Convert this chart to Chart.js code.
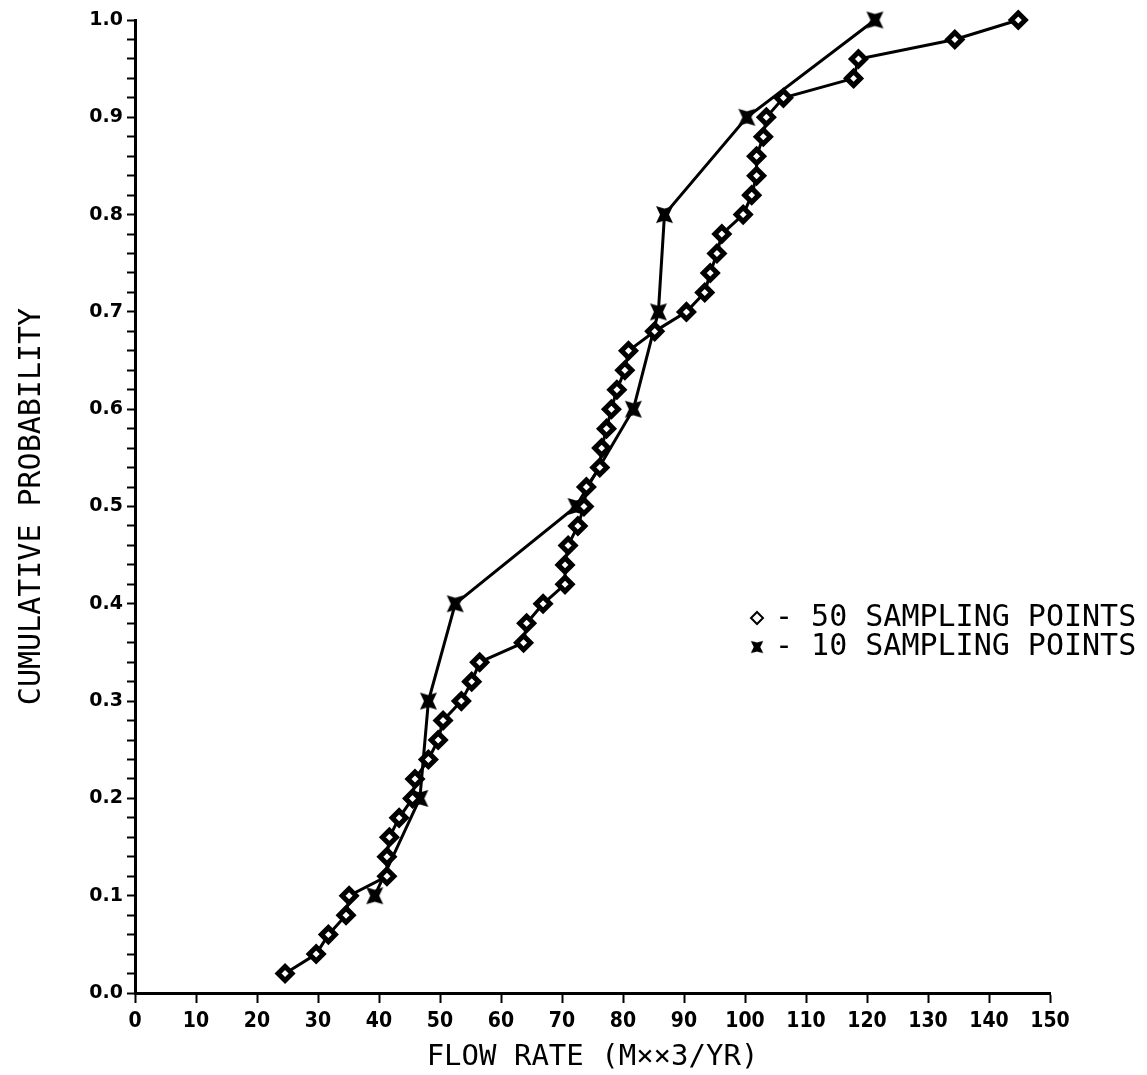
<!DOCTYPE html>
<html>
<head>
<meta charset="utf-8">
<script src="https://cdn.jsdelivr.net/npm/chart.js@4/dist/chart.umd.min.js"></script>
<style>
  html, body { margin: 0; padding: 0; background: #fff; }
  #wrap { width: 1147px; height: 1075px; }
</style>
</head>
<body>
<div id="wrap"><canvas id="myChart"></canvas></div>
<script>
// values
const prob50 = [0.02, 0.04, 0.06, 0.08, 0.10, 0.12, 0.14, 0.16, 0.18, 0.20,
                0.22, 0.24, 0.26, 0.28, 0.30, 0.32, 0.34, 0.36, 0.38, 0.40,
                0.42, 0.44, 0.46, 0.48, 0.50, 0.52, 0.54, 0.56, 0.58, 0.60,
                0.62, 0.64, 0.66, 0.68, 0.70, 0.72, 0.74, 0.76, 0.78, 0.80,
                0.82, 0.84, 0.86, 0.88, 0.90, 0.92, 0.94, 0.96, 0.98, 1.00];
const flow50 = [24.6, 29.7, 31.7, 34.6, 35.1, 41.3, 41.3, 41.7, 43.3, 45.5,
                45.9, 48.1, 49.7, 50.5, 53.5, 55.2, 56.5, 63.7, 64.2, 66.9,
                70.5, 70.5, 71.0, 72.6, 73.6, 74.0, 76.2, 76.5, 77.3, 78.1,
                79.0, 80.3, 80.9, 85.2, 90.4, 93.4, 94.3, 95.4, 96.2, 99.7,
                101.1, 101.9, 101.9, 103.0, 103.5, 106.3, 117.8, 118.6, 134.4, 144.8];

const prob10 = [0.1, 0.2, 0.3, 0.4, 0.5, 0.6, 0.7, 0.8, 0.9, 1.0];
const flow10 = [39.3, 46.7, 48.1, 52.5, 72.3, 81.7, 85.8, 86.8, 100.3, 121.3];

const xTicks = [0, 10, 20, 30, 40, 50, 60, 70, 80, 90, 100, 110, 120, 130, 140, 150];

const labels = ["50 SAMPLING POINTS", "10 SAMPLING POINTS"];

// four-pointed marker for the 10 point series
function starMarker() {
  const c = document.createElement('canvas');
  c.width = 19; c.height = 19;
  const g = c.getContext('2d');
  g.fillStyle = '#000';
  g.beginPath();
  g.moveTo(1, 1); g.lineTo(9.5, 3.5); g.lineTo(18, 1); g.lineTo(14, 9.5);
  g.lineTo(18, 18); g.lineTo(9.5, 15.5); g.lineTo(1, 18); g.lineTo(5, 9.5);
  g.closePath();
  g.fill();
  return c;
}
const marker10 = starMarker();

const toPoints = (xs, ys) => xs.map((x, i) => ({ x: x, y: ys[i] }));

const plotFont = '"DejaVu Sans Mono", monospace';

// legend drawn inside the plot, right side
const innerLegend = {
  id: 'innerLegend',
  afterDraw(chart) {
    const ctx = chart.ctx;
    const x0 = 757, ys = [618, 647];
    ctx.save();
    ctx.fillStyle = '#000';
    ctx.strokeStyle = '#000';
    ctx.font = '30px ' + plotFont;
    ctx.textBaseline = 'middle';
    // diamond
    ctx.lineWidth = 2;
    ctx.beginPath();
    ctx.moveTo(x0, ys[0] - 6); ctx.lineTo(x0 + 6, ys[0]);
    ctx.lineTo(x0, ys[0] + 6); ctx.lineTo(x0 - 6, ys[0]); ctx.closePath();
    ctx.stroke();
    ctx.drawImage(marker10, x0 - 7, ys[1] - 7, 14, 14);
    ctx.fillText('- ' + labels[0], x0 + 18, ys[0]);
    ctx.fillText('- ' + labels[1], x0 + 18, ys[1]);
    ctx.restore();
  }
};

const ctx = document.getElementById('myChart').getContext('2d');
const chart = new Chart(ctx, {
  type: 'scatter',
  data: {
    datasets: [{
      label: labels[0],
      data: toPoints(flow50, prob50),
      showLine: true,
      clip: false,
      borderColor: '#000',
      borderWidth: 3,
      pointStyle: 'rectRot',
      pointRadius: 7,
      pointBorderWidth: 5,
      pointBackgroundColor: '#fff',
      pointBorderColor: '#000',
      tension: 0
    }, {
      label: labels[1],
      data: toPoints(flow10, prob10),
      showLine: true,
      clip: false,
      borderColor: '#000',
      borderWidth: 3,
      pointStyle: marker10,
      tension: 0
    }]
  },
  options: {
    responsive: true,
    maintainAspectRatio: false,
    animation: false,
    layout: { padding: { left: 0, top: 20, right: 97, bottom: 0 } },
    plugins: {
      legend: { display: false },
      tooltip: { enabled: false }
    },
    scales: {
      x: {
        type: 'linear',
        min: 0, max: 150,
        afterFit: (s) => { s.height = 82; },
        afterBuildTicks: (s) => { s.ticks = xTicks.map(v => ({ value: v })); },
        border: { display: true, color: '#000', width: 3 },
        grid: { drawOnChartArea: false, color: '#000', tickLength: 10, tickWidth: 2 },
        ticks: {
          color: '#000', maxRotation: 0, autoSkip: false, padding: 6,
          font: { family: '"DejaVu Sans Condensed", "DejaVu Sans", sans-serif', size: 21, weight: 'bold' }
        },
        title: {
          display: true, text: 'FLOW RATE (M××3/YR)', color: '#000', padding: { top: 0, bottom: 0 },
          font: { family: plotFont, size: 29 }
        }
      },
      y: {
        min: 0, max: 1,
        afterFit: (s) => { s.width = 135; },
        border: { display: true, color: '#000', width: 3 },
        grid: { drawOnChartArea: false, color: '#000', tickLength: 8, tickWidth: 2 },
        ticks: {
          stepSize: 0.02, autoSkip: false, color: '#000', padding: 4,
          font: { family: '"DejaVu Sans", sans-serif', size: 19, weight: 'bold' },
          callback: (v) => (Math.round(v * 50) % 5 === 0 ? v.toFixed(1) : '')
        },
        title: {
          display: true, text: 'CUMULATIVE PROBABILITY', color: '#000', padding: { top: 14, bottom: 0 },
          font: { family: plotFont, size: 30 }
        }
      }
    }
  },
  plugins: [innerLegend]
});
</script>
</body>
</html>
